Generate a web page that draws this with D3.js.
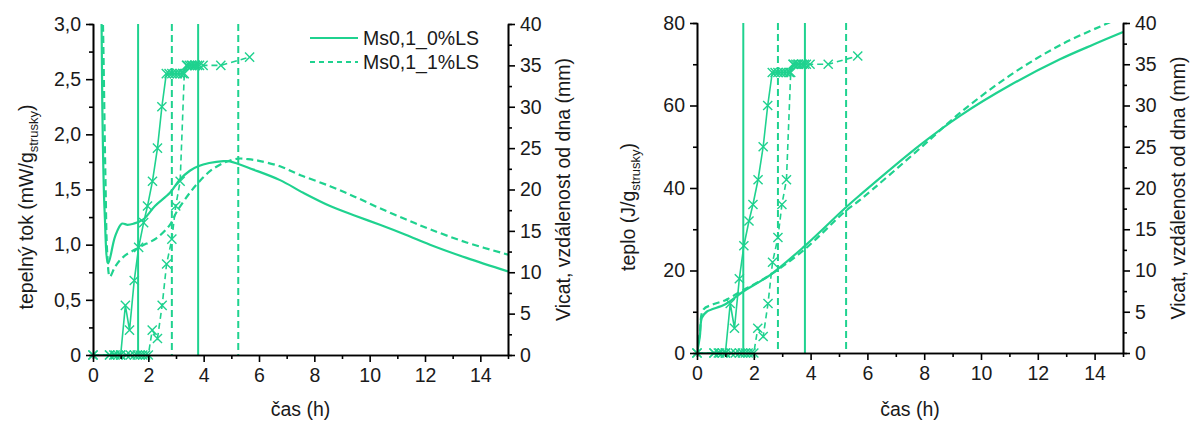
<!DOCTYPE html>
<html>
<head>
<meta charset="utf-8">
<script src="https://cdn.jsdelivr.net/npm/d3@7"></script>
<style>
  body { margin: 0; background: #fff; }
  text { font-family: "Liberation Sans", Arial, sans-serif; fill: #1a1a1a; }
</style>
</head>
<body>
<svg id="drawing_region"></svg>
<script>
// heat flow (mW/g) - Ms0,1_0%LS
const hf0_t = [0, 0.06, 0.28, 0.31, 0.34, 0.42, 0.55, 0.8, 1.04, 1.25, 1.46, 1.82, 2.24, 2.78, 3.14, 3.5, 3.8, 4.2, 4.71, 4.95, 5.8, 6.76, 7.6, 8.57, 9.5, 10.37, 11.3, 12.18, 13.5, 15];
const hf0_v = [0, 3.6, 3.6, 3.0, 2.2, 1.3, 0.83, 1.075, 1.19, 1.18, 1.19, 1.23, 1.35, 1.47, 1.59, 1.67, 1.71, 1.74, 1.757, 1.755, 1.68, 1.585, 1.47, 1.35, 1.26, 1.18, 1.09, 1.0, 0.88, 0.757];
// heat flow (mW/g) - Ms0,1_1%LS
const hf1_t = [0, 0.06, 0.3, 0.36, 0.45, 0.52, 0.61, 0.8, 1.1, 1.7, 2.3, 2.78, 3.03, 3.5, 3.87, 4.3, 4.8, 5.25, 5.6, 6.0, 6.76, 7.5, 8.57, 9.5, 10.37, 11.3, 12.18, 13.5, 15];
const hf1_v = [0, 3.6, 3.6, 3.0, 1.6, 0.9, 0.71, 0.8, 0.89, 0.98, 1.06, 1.18, 1.3, 1.47, 1.58, 1.68, 1.75, 1.78, 1.775, 1.76, 1.71, 1.63, 1.53, 1.43, 1.33, 1.23, 1.14, 1.02, 0.91];

// cumulative heat (J/g)
const q0_t = [0, 0.1, 0.17, 0.34, 1.0, 1.63, 2.57, 3.77, 5.21, 5.74, 7.85, 9.26, 11.02, 12.78, 14.0, 15];
const q0_v = [0, 4, 8.5, 10, 11.8, 14.9, 18.9, 25.8, 35.1, 38.3, 50.4, 57.5, 64.9, 71.2, 74.9, 77.8];
const q1_t = [0, 0.1, 0.22, 0.57, 1.0, 1.63, 2.0, 2.57, 3.77, 5.21, 5.74, 7.85, 9.26, 11.02, 12.78, 14.54, 15];
const q1_v = [0, 5, 10.5, 11.8, 12.8, 15.3, 16.6, 18.9, 25.0, 34.3, 37.1, 49.6, 58.2, 67.3, 74.6, 80.2, 81.6];

// Vicat (mm)
const v0_t = [0, 0.6, 0.75, 0.9, 1.0, 1.17, 1.32, 1.49, 1.65, 1.83, 1.97, 2.15, 2.33, 2.49, 2.65, 2.75, 2.85, 2.95, 3.05, 3.15, 3.25, 3.38, 3.48, 3.58, 3.68, 3.78];
const v0_v = [0, 0, 0, 0, 0, 6, 3, 9, 13, 16, 18, 21, 25, 30, 34, 34, 34, 34, 34, 34, 34, 35, 35, 35, 35, 35];
const v1_t = [0, 0.6, 0.8, 1.0, 1.2, 1.35, 1.5, 1.6, 1.7, 1.8, 1.9, 2.0, 2.14, 2.33, 2.5, 2.66, 2.85, 2.99, 3.15, 3.3, 3.4, 3.55, 3.7, 3.85, 3.98, 4.62, 5.66];
const v1_v = [0, 0, 0, 0, 0, 0, 0, 0, 0, 0, 0, 0, 3, 2, 6, 11, 14, 18, 21, 34, 35, 35, 35, 35, 35, 35, 36];

// setting times (h)
const set0 = [1.63, 3.8];
const set1 = [2.85, 5.25];

const seriesNames = ['Ms0,1_0%LS', 'Ms0,1_1%LS'];
const xTicks = [0, 2, 4, 6, 8, 10, 12, 14];
const vicatTicks = [0, 5, 10, 15, 20, 25, 30, 35, 40];

const color = '#1fd28f';
const dash = '7,4';

const zip = (t, v) => t.map((d, i) => ({x: d, y: v[i]}));

const svg = d3.select('#drawing_region')
    .attr('width', 1195)
    .attr('height', 421);

const comma = d => d === 0 ? '0' : d3.format('.1f')(d).replace('.', ',');

function drawPanel(cfg) {
    const xscale = d3.scaleLinear().domain([0, 15]).range([cfg.left, cfg.right]);
    const yscale = d3.scaleLinear().domain(cfg.ydomain).range([cfg.bottom, cfg.top]);
    const vscale = d3.scaleLinear().domain([0, 40]).range([cfg.bottom, cfg.top]);

    const clipId = 'clip' + cfg.id;
    svg.append('clipPath').attr('id', clipId)
        .append('rect')
        .attr('x', cfg.left).attr('y', cfg.top)
        .attr('width', cfg.right - cfg.left).attr('height', cfg.bottom - cfg.top);

    const g = svg.append('g').attr('clip-path', `url(#${clipId})`);

    // setting time lines
    g.selectAll('.s0').data(set0).join('line')
        .attr('x1', d => xscale(d)).attr('x2', d => xscale(d))
        .attr('y1', cfg.top).attr('y2', cfg.bottom)
        .attr('stroke', color).attr('stroke-width', 2);
    g.selectAll('.s1').data(set1).join('line')
        .attr('x1', d => xscale(d)).attr('x2', d => xscale(d))
        .attr('y1', cfg.top).attr('y2', cfg.bottom)
        .attr('stroke', color).attr('stroke-width', 2)
        .attr('stroke-dasharray', dash);

    const line = d3.line().x(d => xscale(d.x)).y(d => yscale(d.y)).curve(d3.curveCatmullRom.alpha(0.5));
    const vline = d3.line().x(d => xscale(d.x)).y(d => vscale(d.y));

    cfg.curves.forEach((c, i) => {
        g.append('path')
            .datum(c)
            .attr('d', line)
            .attr('fill', 'none')
            .attr('stroke', color)
            .attr('stroke-width', 2.2)
            .attr('stroke-dasharray', i === 1 ? dash : null);
    });

    const vicat = [zip(v0_t, v0_v), zip(v1_t, v1_v)];
    vicat.forEach((c, i) => {
        g.append('path')
            .datum(c)
            .attr('d', vline)
            .attr('fill', 'none')
            .attr('stroke', color)
            .attr('stroke-width', 1.6)
            .attr('stroke-dasharray', i === 1 ? '6,4' : null);
        svg.append('g').selectAll('path').data(c).join('path')
            .attr('transform', d => `translate(${xscale(d.x)},${vscale(d.y)})`)
            .attr('d', d3.symbol(d3.symbolTimes, 56))
            .attr('fill', 'none')
            .attr('stroke', color)
            .attr('stroke-width', 1.4);
    });

    // axes
    const axisStyle = sel => {
        sel.select('.domain').attr('stroke', '#000').attr('stroke-width', 1.6);
        sel.selectAll('.tick line').attr('stroke', '#000').attr('stroke-width', 1.6);
        sel.selectAll('text').attr('font-size', 19.5).style('font-family', '"Liberation Sans", Arial, sans-serif').attr('fill', '#1a1a1a');
    };

    // minor ticks
    const minorX = d3.range(1, 15, 2);
    svg.append('g').attr('transform', `translate(0,${cfg.bottom})`)
        .call(d3.axisBottom(xscale).tickValues(minorX).tickSize(4).tickFormat(''))
        .call(axisStyle);
    svg.append('g').attr('transform', `translate(${cfg.left},0)`)
        .call(d3.axisLeft(yscale).tickValues(cfg.yminor).tickSize(4).tickFormat(''))
        .call(axisStyle);
    svg.append('g').attr('transform', `translate(${cfg.right},0)`)
        .call(d3.axisRight(vscale).tickValues(d3.range(2.5, 40, 5)).tickSize(4).tickFormat(''))
        .call(axisStyle);

    svg.append('g').attr('transform', `translate(0,${cfg.bottom})`)
        .call(d3.axisBottom(xscale).tickValues(xTicks).tickSize(7).tickSizeOuter(0).tickPadding(6).tickFormat(d3.format('d')))
        .call(axisStyle);
    svg.append('g').attr('transform', `translate(${cfg.left},0)`)
        .call(d3.axisLeft(yscale).tickValues(cfg.yticks).tickSize(7).tickSizeOuter(0).tickPadding(5).tickFormat(cfg.yformat))
        .call(axisStyle);
    svg.append('g').attr('transform', `translate(${cfg.right},0)`)
        .call(d3.axisRight(vscale).tickValues(vicatTicks).tickSize(7).tickSizeOuter(0).tickPadding(5))
        .call(axisStyle);

    // axis titles
    svg.append('text')
        .attr('x', (cfg.left + cfg.right) / 2).attr('y', 416)
        .attr('text-anchor', 'middle').attr('font-size', 19.5)
        .text('čas (h)');

    const yl = svg.append('text')
        .attr('transform', `translate(${cfg.ylabelX},${cfg.ylabelY}) rotate(-90)`)
        .attr('text-anchor', 'middle').attr('font-size', 19.5);
    yl.append('tspan').text(cfg.ylabel);
    yl.append('tspan').attr('font-size', 13).attr('dy', 5).text('strusky');
    yl.append('tspan').attr('dy', -5).text(')');

    svg.append('text')
        .attr('transform', `translate(${cfg.right + 62},${(cfg.top + cfg.bottom) / 2}) rotate(-90)`)
        .attr('text-anchor', 'middle').attr('font-size', 19.5)
        .text('Vicat, vzdálenost od dna (mm)');
}

drawPanel({
    id: 'L', left: 93, right: 508, top: 24, bottom: 355,
    ydomain: [0, 3], yticks: d3.range(0, 3.01, 0.5), yminor: d3.range(0.25, 3, 0.5), yformat: comma,
    curves: [zip(hf0_t, hf0_v), zip(hf1_t, hf1_v)],
    ylabel: 'tepelný tok (mW/g', ylabelX: 33, ylabelY: 207
});

drawPanel({
    id: 'R', left: 697, right: 1123, top: 23, bottom: 353,
    ydomain: [0, 80], yticks: d3.range(0, 81, 20), yminor: d3.range(10, 80, 20), yformat: d3.format('d'),
    curves: [zip(q0_t, q0_v), zip(q1_t, q1_v)],
    ylabel: 'teplo (J/g', ylabelX: 635, ylabelY: 207
});

// legend
const legend = svg.append('g');
seriesNames.forEach((name, i) => {
    const y = 38 + i * 24;
    legend.append('line')
        .attr('x1', 310).attr('x2', 358).attr('y1', y).attr('y2', y)
        .attr('stroke', color).attr('stroke-width', 2)
        .attr('stroke-dasharray', i === 1 ? '5,4' : null);
    legend.append('text')
        .attr('x', 363).attr('y', y + 7)
        .attr('font-size', 19.5)
        .text(name);
});
</script>
</body>
</html>
